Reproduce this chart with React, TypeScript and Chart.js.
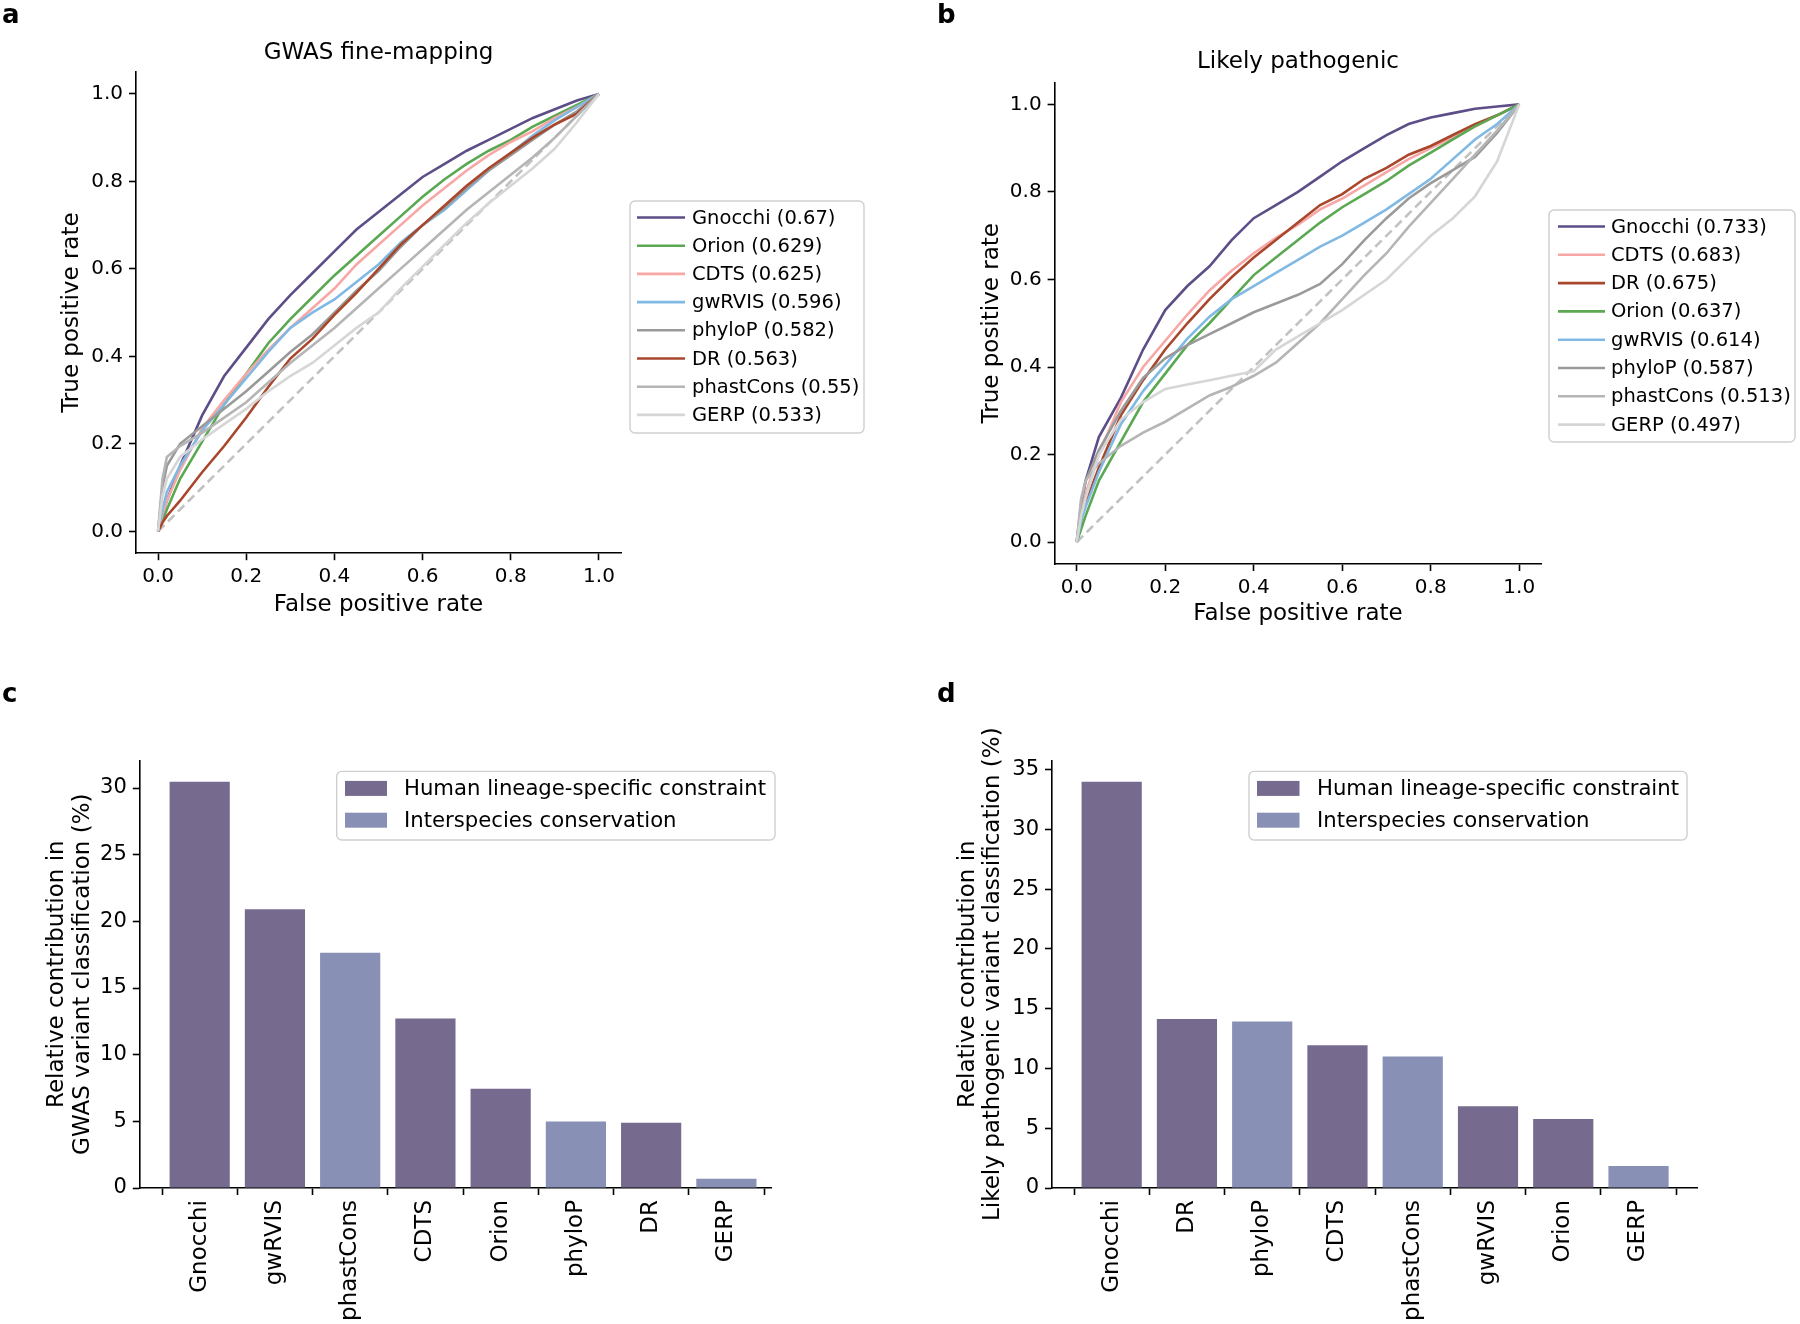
import React, { useEffect, useRef } from "react";
import { Chart, registerables } from "chart.js";

Chart.register(...registerables);

const FONT = "'DejaVu Sans', 'Liberation Sans', sans-serif";

// ---------------- Data ----------------
const fprGrid = [0, 0.01, 0.02, 0.05, 0.1, 0.15, 0.2, 0.25, 0.3, 0.35, 0.4, 0.45, 0.5, 0.55, 0.6, 0.65, 0.7, 0.75, 0.8, 0.85, 0.9, 0.95, 1];
const chanceX = [0, 1];
const rocTicks = [0, 0.2, 0.4, 0.6, 0.8, 1.0];

// Panel a: GWAS fine-mapping
const methodsA = ["Gnocchi", "Orion", "CDTS", "gwRVIS", "phyloP", "DR", "phastCons", "GERP"];
const aucA = ["0.67", "0.629", "0.625", "0.596", "0.582", "0.563", "0.55", "0.533"];
const gnocchiA = [0, 0.04, 0.07, 0.15, 0.265, 0.355, 0.42, 0.485, 0.54, 0.59, 0.64, 0.69, 0.73, 0.77, 0.81, 0.84, 0.87, 0.895, 0.92, 0.945, 0.965, 0.985, 1];
const orionA = [0, 0.025, 0.05, 0.12, 0.205, 0.29, 0.36, 0.43, 0.485, 0.535, 0.585, 0.63, 0.675, 0.72, 0.765, 0.805, 0.84, 0.87, 0.895, 0.925, 0.95, 0.975, 1];
const cdtsA = [0, 0.04, 0.07, 0.14, 0.235, 0.3, 0.36, 0.415, 0.465, 0.51, 0.555, 0.61, 0.655, 0.7, 0.745, 0.785, 0.825, 0.86, 0.89, 0.915, 0.945, 0.97, 1];
const gwrvisA = [0, 0.05, 0.09, 0.15, 0.23, 0.29, 0.35, 0.41, 0.465, 0.5, 0.53, 0.57, 0.61, 0.66, 0.7, 0.735, 0.78, 0.825, 0.865, 0.905, 0.94, 0.97, 1];
const phylopA = [0, 0.1, 0.15, 0.2, 0.24, 0.28, 0.32, 0.365, 0.41, 0.45, 0.5, 0.55, 0.595, 0.65, 0.7, 0.74, 0.785, 0.825, 0.86, 0.895, 0.93, 0.96, 1];
const drA = [0, 0.02, 0.035, 0.07, 0.135, 0.195, 0.26, 0.33, 0.395, 0.44, 0.495, 0.545, 0.6, 0.655, 0.7, 0.745, 0.79, 0.83, 0.865, 0.9, 0.93, 0.955, 1];
const phastconsA = [0, 0.12, 0.17, 0.195, 0.225, 0.26, 0.295, 0.34, 0.385, 0.425, 0.465, 0.51, 0.555, 0.6, 0.645, 0.69, 0.735, 0.775, 0.815, 0.855, 0.9, 0.95, 1];
const gerpA = [0, 0.08, 0.12, 0.17, 0.21, 0.245, 0.28, 0.32, 0.355, 0.385, 0.425, 0.465, 0.5, 0.555, 0.605, 0.655, 0.705, 0.75, 0.79, 0.83, 0.875, 0.935, 1];

// Panel b: Likely pathogenic
const methodsB = ["Gnocchi", "CDTS", "DR", "Orion", "gwRVIS", "phyloP", "phastCons", "GERP"];
const aucB = ["0.733", "0.683", "0.675", "0.637", "0.614", "0.587", "0.513", "0.497"];
const gnocchiB = [0, 0.08, 0.14, 0.24, 0.33, 0.44, 0.53, 0.585, 0.63, 0.69, 0.74, 0.77, 0.8, 0.835, 0.87, 0.9, 0.93, 0.955, 0.97, 0.98, 0.99, 0.995, 1];
const cdtsB = [0, 0.07, 0.11, 0.2, 0.32, 0.4, 0.46, 0.52, 0.575, 0.62, 0.66, 0.695, 0.725, 0.76, 0.785, 0.815, 0.845, 0.875, 0.9, 0.925, 0.95, 0.975, 1];
const drB = [0, 0.05, 0.09, 0.17, 0.29, 0.37, 0.44, 0.5, 0.555, 0.605, 0.65, 0.69, 0.73, 0.77, 0.795, 0.83, 0.855, 0.885, 0.905, 0.93, 0.955, 0.975, 1];
const orionB = [0, 0.03, 0.06, 0.14, 0.23, 0.32, 0.385, 0.45, 0.5, 0.555, 0.61, 0.65, 0.69, 0.73, 0.765, 0.795, 0.825, 0.86, 0.89, 0.92, 0.95, 0.975, 1];
const gwrvisB = [0, 0.05, 0.08, 0.16, 0.27, 0.345, 0.405, 0.465, 0.515, 0.555, 0.585, 0.615, 0.645, 0.675, 0.7, 0.73, 0.76, 0.795, 0.83, 0.875, 0.92, 0.955, 1];
const phylopB = [0, 0.09, 0.14, 0.21, 0.3, 0.375, 0.42, 0.45, 0.475, 0.5, 0.525, 0.545, 0.565, 0.59, 0.635, 0.69, 0.74, 0.785, 0.82, 0.85, 0.88, 0.935, 1];
const phastconsB = [0, 0.1, 0.14, 0.18, 0.22, 0.25, 0.275, 0.305, 0.335, 0.355, 0.38, 0.41, 0.455, 0.5, 0.555, 0.61, 0.66, 0.72, 0.775, 0.83, 0.885, 0.94, 1];
const gerpB = [0, 0.06, 0.1, 0.2, 0.28, 0.32, 0.35, 0.36, 0.37, 0.38, 0.39, 0.44, 0.47, 0.5, 0.53, 0.565, 0.6, 0.65, 0.7, 0.74, 0.79, 0.87, 1];

// Panel c / d: relative contributions (%)
const barCatsC = ["Gnocchi", "gwRVIS", "phastCons", "CDTS", "Orion", "phyloP", "DR", "GERP"];
const barValsC = [30.47, 20.9, 17.64, 12.71, 7.44, 4.99, 4.89, 0.7];
const barGroupC = [0, 0, 1, 0, 0, 1, 0, 1];
const barCatsD = ["Gnocchi", "DR", "phyloP", "CDTS", "phastCons", "gwRVIS", "Orion", "GERP"];
const barValsD = [34.0, 14.15, 13.94, 11.95, 11.0, 6.84, 5.78, 1.84];
const barGroupD = [0, 0, 1, 0, 1, 0, 0, 1];
const barGroups = ["Human lineage-specific constraint", "Interspecies conservation"];
const barTicksC = [0, 5, 10, 15, 20, 25, 30];
const barTicksD = [0, 5, 10, 15, 20, 25, 30, 35];

// ---------------- Styles ----------------
const methodColors: Record<string, string> = {
  Gnocchi: "#5d4e88",
  Orion: "#5ba852",
  CDTS: "#f7a8a6",
  gwRVIS: "#80b9e3",
  phyloP: "#9a9a9a",
  DR: "#a9472c",
  phastCons: "#b5b5b5",
  GERP: "#d6d6d6",
};
const groupColors = ["#766a8f", "#8890b5"];

function roundRect(ctx: CanvasRenderingContext2D, x: number, y: number, w: number, h: number, r: number) {
  ctx.beginPath();
  ctx.moveTo(x + r, y);
  ctx.lineTo(x + w - r, y);
  ctx.arcTo(x + w, y, x + w, y + r, r);
  ctx.lineTo(x + w, y + h - r);
  ctx.arcTo(x + w, y + h, x + w - r, y + h, r);
  ctx.lineTo(x + r, y + h);
  ctx.arcTo(x, y + h, x, y + h - r, r);
  ctx.lineTo(x, y + r);
  ctx.arcTo(x, y, x + r, y, r);
  ctx.closePath();
}

function makeDeco(cfg: any) {
  return {
    id: "deco",
    afterDraw(chart: any) {
      const ctx = chart.ctx as CanvasRenderingContext2D;
      ctx.save();
      ctx.fillStyle = "#000";
      if (cfg.letter) {
        ctx.font = `bold 26px ${FONT}`;
        ctx.textAlign = "left";
        ctx.textBaseline = "alphabetic";
        ctx.fillText(cfg.letter.text, cfg.letter.x, cfg.letter.y);
      }
      if (cfg.title) {
        const ca = chart.chartArea;
        ctx.font = `23px ${FONT}`;
        ctx.textAlign = "center";
        ctx.textBaseline = "middle";
        ctx.fillText(cfg.title.text, (ca.left + ca.right) / 2, cfg.title.y);
      }
      if (cfg.legend) {
        const L = cfg.legend;
        roundRect(ctx, L.x, L.y, L.w, L.h, 5);
        ctx.fillStyle = "rgba(255,255,255,0.85)";
        ctx.fill();
        ctx.strokeStyle = "#cfcfcf";
        ctx.lineWidth = 1.4;
        ctx.stroke();
        ctx.font = `${L.fontSize}px ${FONT}`;
        ctx.textAlign = "left";
        ctx.textBaseline = "middle";
        L.rows.forEach((row: any, i: number) => {
          const cy = L.row0 + i * L.dy;
          if (L.kind === "line") {
            ctx.strokeStyle = row.color;
            ctx.lineWidth = 2.6;
            ctx.beginPath();
            ctx.moveTo(L.x0, cy);
            ctx.lineTo(L.x1, cy);
            ctx.stroke();
          } else {
            ctx.fillStyle = row.color;
            ctx.fillRect(L.x0, cy - L.patchH / 2, L.x1 - L.x0, L.patchH);
          }
          ctx.fillStyle = "#000";
          ctx.fillText(row.label, L.tx, cy + 1);
        });
      }
      ctx.restore();
    },
  };
}

const tickGrid = { drawOnChartArea: false, drawTicks: true, tickLength: 7, tickWidth: 1.6, tickColor: "#000" };
const border = { display: true, color: "#000", width: 1.6 };

function rocAxis(title: string, size: number, horizontal: boolean) {
  return {
    type: "linear",
    min: -0.05,
    max: 1.05,
    afterBuildTicks: (s: any) => {
      s.ticks = rocTicks.map((v) => ({ value: v }));
    },
    afterFit: (s: any) => {
      if (horizontal) s.height = size;
      else s.width = size;
    },
    ticks: {
      autoSkip: false,
      maxRotation: 0,
      padding: horizontal ? 5 : 6,
      font: { family: FONT, size: 20 },
      color: "#000",
      callback: (v: any) => Number(v).toFixed(1),
    },
    grid: tickGrid,
    border,
    title: { display: true, text: title, font: { family: FONT, size: 23, lineHeight: 1.2 }, color: "#000", padding: 0 },
  };
}

function makeRoc(canvas: HTMLCanvasElement, methods: string[], aucs: string[], tprs: number[][], L: any) {
  const datasets: any[] = methods.map((m, i) => ({
    label: `${m} (${aucs[i]})`,
    data: fprGrid.map((x, j) => ({ x, y: tprs[i][j] })),
    borderColor: methodColors[m],
    backgroundColor: methodColors[m],
    borderWidth: 2.6,
    showLine: true,
    pointRadius: 0,
    fill: false,
    tension: 0,
    order: -i,
  }));
  datasets.push({
    label: "chance",
    data: chanceX.map((x) => ({ x, y: x })),
    borderColor: "#c2c2c2",
    borderDash: [9, 5],
    borderWidth: 2.6,
    showLine: true,
    pointRadius: 0,
    fill: false,
    order: 100,
  });
  return new Chart(canvas, {
    type: "scatter",
    data: { datasets },
    options: {
      responsive: false,
      animation: false,
      devicePixelRatio: 1,
      events: [],
      layout: { padding: L.padding },
      plugins: { legend: { display: false }, tooltip: { enabled: false }, title: { display: false } },
      scales: {
        x: rocAxis("False positive rate", L.xH, true),
        y: rocAxis("True positive rate", L.yW, false),
      } as any,
    },
    plugins: [
      makeDeco({
        letter: L.letter,
        title: L.title,
        legend: {
          ...L.legend,
          kind: "line",
          fontSize: 19.5,
          rows: methods.map((m, i) => ({ label: `${m} (${aucs[i]})`, color: methodColors[m] })),
        },
      }),
    ],
  } as any);
}

function makeBars(canvas: HTMLCanvasElement, cats: string[], vals: number[], groups: number[], yTicks: number[], yTitle: string[], L: any) {
  return new Chart(canvas, {
    type: "bar",
    data: {
      datasets: [
        {
          data: cats.map((_, i) => ({ x: i, y: vals[i] })),
          backgroundColor: groups.map((g) => groupColors[g]),
          borderWidth: 0,
          barPercentage: 0.8,
          categoryPercentage: 1,
        },
      ],
    },
    options: {
      responsive: false,
      animation: false,
      devicePixelRatio: 1,
      events: [],
      layout: { padding: L.padding },
      plugins: { legend: { display: false }, tooltip: { enabled: false }, title: { display: false } },
      scales: {
        x: {
          type: "linear",
          min: L.xMin,
          max: L.xMax,
          offset: false,
          afterBuildTicks: (s: any) => {
            s.ticks = cats.map((_, i) => ({ value: i }));
          },
          afterFit: (s: any) => {
            s.height = L.xH;
          },
          ticks: {
            autoSkip: false,
            minRotation: 90,
            maxRotation: 90,
            padding: 5,
            font: { family: FONT, size: 23 },
            color: "#000",
            callback: (v: any) => cats[Math.round(Number(v))],
          },
          grid: tickGrid,
          border,
        },
        y: {
          type: "linear",
          min: 0,
          max: L.yMax,
          afterBuildTicks: (s: any) => {
            s.ticks = yTicks.map((v) => ({ value: v }));
          },
          afterFit: (s: any) => {
            s.width = L.yW;
          },
          ticks: { autoSkip: false, padding: 6, font: { family: FONT, size: 21 }, color: "#000", callback: (v: any) => String(v) },
          grid: tickGrid,
          border,
          title: { display: true, text: yTitle, font: { family: FONT, size: 23, lineHeight: 1.1 }, color: "#000", padding: 0 },
        },
      } as any,
    },
    plugins: [
      makeDeco({
        letter: L.letter,
        legend: {
          ...L.legend,
          kind: "patch",
          fontSize: 21.2,
          patchH: 15,
          rows: barGroups.map((g, i) => ({ label: g, color: groupColors[i] })),
        },
      }),
    ],
  } as any);
}

function ChartCanvas({ make }: { make: (c: HTMLCanvasElement) => Chart }) {
  const ref = useRef<HTMLCanvasElement>(null);
  useEffect(() => {
    const ch = make(ref.current as HTMLCanvasElement);
    return () => ch.destroy();
  }, []);
  return (
    <canvas
      ref={ref}
      width={1800}
      height={1324}
      style={{ position: "absolute", left: 0, top: 0, width: 1800, height: 1324 }}
    />
  );
}

export default function App() {
  return (
    <div style={{ position: "absolute", left: 0, top: 0, width: 1800, height: 1324, background: "#fff", overflow: "hidden" }}>
      <ChartCanvas
        make={(c) =>
          makeRoc(c, methodsA, aucA, [gnocchiA, orionA, cdtsA, gwrvisA, phylopA, drA, phastconsA, gerpA], {
            padding: { left: 58, top: 72, right: 1179, bottom: 705.5 },
            yW: 78,
            xH: 65.3,
            letter: { text: "a", x: 2, y: 22.5 },
            title: { text: "GWAS fine-mapping", y: 53 },
            legend: { x: 630, y: 201, w: 234, h: 232, x0: 637, x1: 685, tx: 692, row0: 217.5, dy: 28.2 },
          })
        }
      />
      <ChartCanvas
        make={(c) =>
          makeRoc(c, methodsB, aucB, [gnocchiB, cdtsB, drB, orionB, gwrvisB, phylopB, phastconsB, gerpB], {
            padding: { left: 978, top: 82.5, right: 258.6, bottom: 696 },
            yW: 76.6,
            xH: 64,
            letter: { text: "b", x: 937, y: 22.5 },
            title: { text: "Likely pathogenic", y: 62 },
            legend: { x: 1549, y: 210, w: 246, h: 232, x0: 1558, x1: 1605, tx: 1611, row0: 226.5, dy: 28.3 },
          })
        }
      />
      <ChartCanvas
        make={(c) =>
          makeBars(c, barCatsC, barValsC, barGroupC, barTicksC, ["Relative contribution in", "GWAS variant classification (%)"], {
            padding: { left: 44.75, top: 760.4, right: 1029, bottom: 0 },
            yW: 95.05,
            xH: 136,
            xMin: -0.796,
            xMax: 7.593,
            yMax: 32.07,
            letter: { text: "c", x: 2, y: 702 },
            legend: { x: 336.7, y: 771.4, w: 438.3, h: 68.6, x0: 345, x1: 387, tx: 404, row0: 788.4, dy: 31.8 },
          })
        }
      />
      <ChartCanvas
        make={(c) =>
          makeBars(c, barCatsD, barValsD, barGroupD, barTicksD, ["Relative contribution in", "Likely pathogenic variant classification (%)"], {
            padding: { left: 955, top: 760.4, right: 103, bottom: 0 },
            yW: 97,
            xH: 136,
            xMin: -0.793,
            xMax: 7.777,
            yMax: 35.78,
            letter: { text: "d", x: 937, y: 702 },
            legend: { x: 1249, y: 771.4, w: 438, h: 68.6, x0: 1257, x1: 1299.5, tx: 1317, row0: 788.4, dy: 31.8 },
          })
        }
      />
    </div>
  );
}
